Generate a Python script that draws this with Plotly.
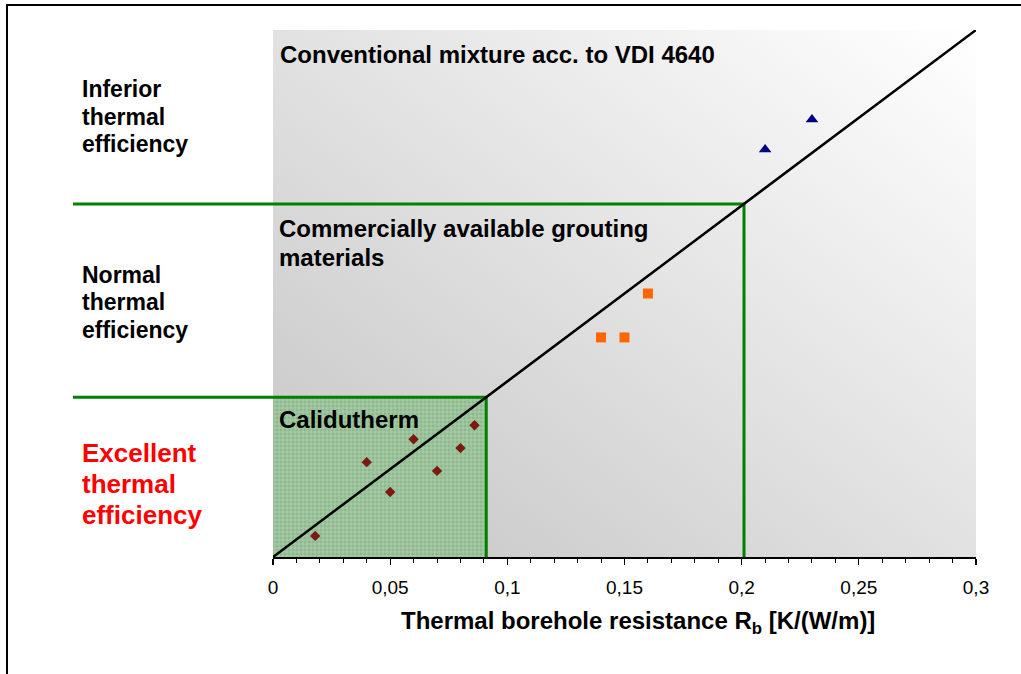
import base64
import plotly.graph_objects as go

# ---------------- data ----------------
calidutherm_x = [0.018, 0.040, 0.050, 0.060, 0.070, 0.080, 0.086]
calidutherm_y = [0.012, 0.054, 0.037, 0.067, 0.049, 0.062, 0.075]
commercial_x = [0.140, 0.150, 0.160]
commercial_y = [0.125, 0.125, 0.150]
conventional_x = [0.210, 0.230]
conventional_y = [0.232, 0.249]
reference_x = [0.0, 0.3]
reference_y = [0.0, 0.3]
normal_limit = 0.201
excellent_limit = 0.091
tick_vals = [0, 0.05, 0.1, 0.15, 0.2, 0.25, 0.3]
tick_text = ["0", "0,05", "0,1", "0,15", "0,2", "0,25", "0,3"]
minor_vals = [i / 100 for i in range(0, 31)]

# ---------------- layout helpers ----------------
W, H = 1021, 674
L, R, T, B = 273, 45, 30, 117
PW, PH = W - L - R, H - T - B


def px(xp):
    return (xp - L) / PW


def py(yp):
    return (H - B - yp) / PH


FONT = "Liberation Sans, Arial, sans-serif"
GREEN = "#008000"

fig = go.Figure()

# Calidutherm hatched region
fig.add_trace(go.Scatter(
    x=[0, excellent_limit, excellent_limit, 0, 0],
    y=[0, 0, excellent_limit, excellent_limit, 0],
    mode="none", fill="toself",
    fillcolor="#96c296",
    fillpattern=dict(shape="+", bgcolor="#8cba8c", fgcolor="#cfe3cf",
                     size=4, solidity=0.4),
    hoverinfo="skip", showlegend=False,
))

# green limit lines (inside plot area)
fig.add_trace(go.Scatter(
    x=[0, normal_limit, normal_limit], y=[normal_limit, normal_limit, 0],
    mode="lines", line=dict(color=GREEN, width=3),
    hoverinfo="skip", showlegend=False,
))
fig.add_trace(go.Scatter(
    x=[0, excellent_limit, excellent_limit], y=[excellent_limit, excellent_limit, 0],
    mode="lines", line=dict(color=GREEN, width=3),
    hoverinfo="skip", showlegend=False,
))

# diagonal reference line
fig.add_trace(go.Scatter(
    x=reference_x, y=reference_y, mode="lines",
    line=dict(color="black", width=2.5), showlegend=False,
))

fig.add_trace(go.Scatter(
    x=calidutherm_x, y=calidutherm_y, mode="markers", name="Calidutherm",
    marker=dict(symbol="diamond", size=8, color="#7a1a12"), showlegend=False,
))
fig.add_trace(go.Scatter(
    x=commercial_x, y=commercial_y, mode="markers", name="Commercial",
    marker=dict(symbol="square", size=10, color="#ff6600"), showlegend=False,
))
fig.add_trace(go.Scatter(
    x=conventional_x, y=conventional_y, mode="markers", name="Conventional",
    marker=dict(symbol="triangle-up", size=11, color="#000080"), showlegend=False,
))

# gradient background (style only)
svg = ('<svg xmlns="http://www.w3.org/2000/svg" width="200" height="200" '
       'viewBox="0 0 200 200" preserveAspectRatio="none"><defs>'
       '<linearGradient id="g" x1="0" y1="1" x2="1" y2="0">'
       '<stop offset="0" stop-color="#c4c4c4"/>'
       '<stop offset="1" stop-color="#ffffff"/></linearGradient></defs>'
       '<rect width="200" height="200" fill="url(#g)"/></svg>')
src = "data:image/svg+xml;base64," + base64.b64encode(svg.encode()).decode()

shapes = [
    # outer frame
    dict(type="rect", xref="paper", yref="paper",
         x0=px(7), x1=px(1040), y0=py(700), y1=py(5),
         line=dict(color="black", width=2), fillcolor="rgba(0,0,0,0)"),
    # left parts of green limit lines
    dict(type="line", xref="paper", yref="y", x0=px(73), x1=0,
         y0=normal_limit, y1=normal_limit, line=dict(color=GREEN, width=3)),
    dict(type="line", xref="paper", yref="y", x0=px(73), x1=0,
         y0=excellent_limit, y1=excellent_limit, line=dict(color=GREEN, width=3)),
]

annotations = []


def label(lines, x, ys, size, color="black"):
    for text, yy in zip(lines, ys):
        annotations.append(dict(
            text=text, xref="paper", yref="paper", x=px(x), y=py(yy),
            xanchor="left", yanchor="middle", showarrow=False,
            font=dict(family=FONT, size=size, color=color, weight="bold"),
        ))


label(["Inferior", "thermal", "efficiency"], 80, [89, 117, 144], 23)
label(["Normal", "thermal", "efficiency"], 80, [275, 302, 330], 23)
label(["Excellent", "thermal", "efficiency"], 80, [453, 484, 515], 26, "#ff0000")
label(["Conventional mixture acc. to VDI 4640"], 278, [54], 24)
label(["Commercially available grouting", "materials"], 277, [228, 257], 24)
label(["Calidutherm"], 277, [419], 24)
# x axis title (offset to the right of the plot centre as in the original)
label(["Thermal borehole resistance R<sub>b</sub> [K/(W/m)]"], 399, [622], 24)

fig.update_layout(
    width=W, height=H,
    margin=dict(l=L, r=R, t=T, b=B, pad=0),
    paper_bgcolor="white", plot_bgcolor="white",
    showlegend=False,
    images=[dict(source=src, xref="x", yref="y", x=0, y=0.3,
                 sizex=0.3, sizey=0.3, sizing="stretch", layer="below")],
    shapes=shapes,
    annotations=annotations,
    xaxis=dict(
        range=[0, 0.3], showgrid=False, zeroline=False,
        showline=True, linecolor="black", linewidth=1.5,
        tickmode="array", tickvals=tick_vals, ticktext=tick_text,
        ticks="outside", ticklen=6, tickwidth=1.2, tickcolor="black",
        ticklabelstandoff=7,
        minor=dict(tickmode="array", tickvals=minor_vals, ticks="outside",
                   ticklen=4, tickwidth=1, tickcolor="black"),
        tickfont=dict(family=FONT, size=19, color="black"),
        fixedrange=True,
    ),
    yaxis=dict(range=[0, 0.3], visible=False, fixedrange=True),
)

fig.write_html("out.html",
               config={"displayModeBar": False, "staticPlot": True},
               post_script="document.body.style.margin='0';"
                           "document.body.style.overflow='hidden';")
